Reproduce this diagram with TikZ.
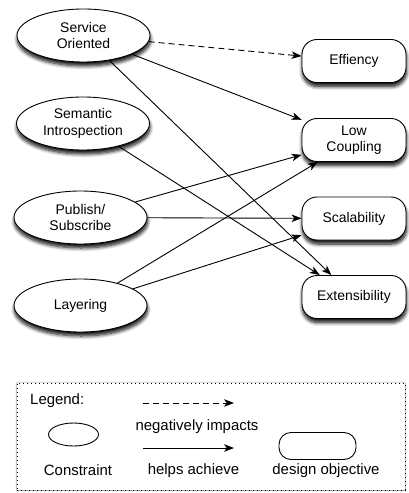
\documentclass[tikz,border=0pt]{standalone}
\usepackage{fontspec}
\setmainfont{Liberation Sans}
\usetikzlibrary{arrows.meta,shapes.geometric,shadows.blur}

\begin{document}
\begin{tikzpicture}[x=1bp,y=-1bp,
  font=\fontsize{14}{16.5}\selectfont,
  softshadow/.style={blur shadow={shadow xshift=0.5bp, shadow yshift=-4bp,
      shadow blur radius=3.5bp, shadow blur steps=8, shadow opacity=95}},
  constraint/.style={ellipse, draw, line width=0.9bp, fill=white,
      minimum width=133bp, minimum height=53bp, inner sep=0pt, align=center, softshadow},
  objective/.style={rectangle, draw, line width=0.9bp, fill=white, rounded corners=15bp,
      minimum width=104bp, minimum height=43bp, inner sep=0pt, align=center, softshadow},
  tip/.style={-{Stealth[length=10bp,width=7.5bp,inset=2.8bp]}},
  helps/.style={tip, line width=0.9bp},
  negimpact/.style={tip, line width=0.9bp, dash pattern=on 6bp off 4bp},
  legendbox/.style={rectangle, draw, line width=0.9bp, dash pattern=on 1.1bp off 2.9bp,
      fill=white, minimum width=388bp, minimum height=107bp, inner sep=0pt,
      blur shadow={shadow xshift=0bp, shadow yshift=0bp, shadow blur radius=1.5bp,
      shadow blur steps=4, shadow opacity=50}},
  plain/.style={inner sep=0pt, align=center, font=\fontsize{15}{17}\selectfont}]

\useasboundingbox (0,0) rectangle (408,493);

% constraints
\node[constraint] (so) at (83.5,35.5) {Service\\Oriented};
\node[constraint] (si) at (83,123.5) {Semantic\\Introspection};
\node[constraint] (ps) at (80.5,217.5) {Publish/\\Subscribe};
\node[constraint] (ly) at (80.5,305.5) {Layering};

% design objectives
\node[objective] (ef) at (354,61) {Effiency};
\node[objective] (lc) at (354,140) {Low\\Coupling};
\node[objective] (sc) at (354,218.5) {Scalability};
\node[objective] (ex) at (354,297) {Extensibility};

% relations
\draw[negimpact] (so) -- (ef);
\draw[helps] (so) -- (lc);
\draw[helps] (so) -- (ex);
\draw[helps] (si) -- (ex);
\draw[helps] (ps) -- (lc);
\draw[helps] (ps) -- (sc);
\draw[helps] (ly) -- (lc);
\draw[helps] (ly) -- (sc);

% legend
\node[legendbox] (legend) at (211,436.5) {};
\node[plain, anchor=west] (legtitle) at (30,401) {Legend:};
\node[ellipse, draw, line width=0.9bp, minimum width=50bp, minimum height=23bp, inner sep=0pt]
  (legell) at (73.5,434.5) {};
\node[rectangle, draw, line width=0.9bp, rounded corners=12bp, minimum width=77bp,
  minimum height=27bp, inner sep=0pt] (legrect) at (317.5,446) {};
\coordinate (negA) at (143,403);
\coordinate (negB) at (234,403);
\draw[negimpact] (negA) -- (negB);
\coordinate (helpA) at (143,448);
\coordinate (helpB) at (234,448);
\draw[helps] (helpA) -- (helpB);
\node[plain] (negtext) at (197,426.5) {negatively impacts};
\node[plain] (helptext) at (193.5,470.5) {helps achieve};
\node[plain] (context) at (78,470.5) {Constraint};
\node[plain] (objtext) at (326,470.5) {design objective};
\end{tikzpicture}
\end{document}
